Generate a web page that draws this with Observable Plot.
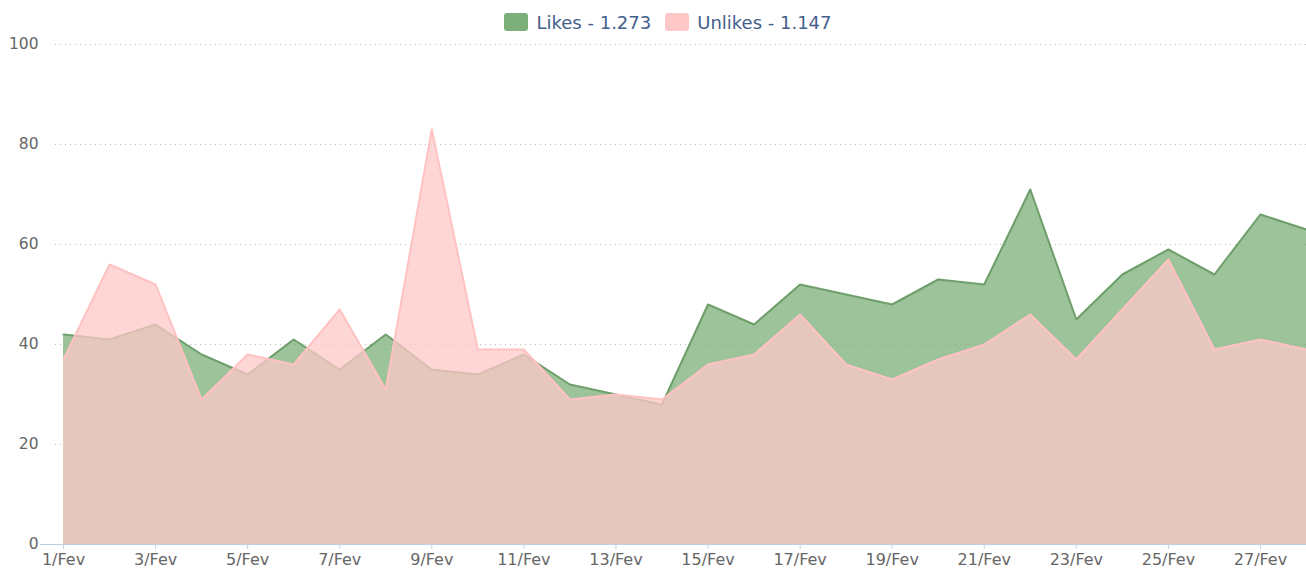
<!DOCTYPE html>
<html>
<head>
<meta charset="utf-8">
<script src="https://cdn.jsdelivr.net/npm/d3@7"></script>
<script src="https://cdn.jsdelivr.net/npm/@observablehq/plot@0.6"></script>
<style>
  html, body { margin: 0; padding: 0; background: #fff; }
  body { width: 1306px; height: 568px; overflow: hidden; font-family: "DejaVu Sans", Verdana, sans-serif; }
  #legend { height: 34px; padding-top: 10px; display: flex; justify-content: center; align-items: center; font-size: 18px; color: #44608a; padding-left: 44px; box-sizing: border-box; }
  .item { display: flex; align-items: center; margin-right: 14px; }
  .sw { width: 24px; height: 18px; border-radius: 3px; margin-right: 8px; }
</style>
</head>
<body>
<div id="legend"></div>
<div id="chart"></div>
<script>
const days = [1,2,3,4,5,6,7,8,9,10,11,12,13,14,15,16,17,18,19,20,21,22,23,24,25,26,27,28];
const likes = [42,41,44,38,34,41,35,42,35,34,38,32,30,28,48,44,52,50,48,53,52,71,45,54,59,54,66,63];
const unlikes = [37,56,52,29,38,36,47,31,83,39,39,29,30,29,36,38,46,36,33,37,40,46,37,47,57,39,41,39];
const tickDays = [1,3,5,7,9,11,13,15,17,19,21,23,25,27];
const yTicks = [0,20,40,60,80,100];
const gridTicks = [20,40,60,80,100];
const seriesNames = ["Likes", "Unlikes"];
const seriesTotals = ["1.273", "1.147"];
const seriesColors = ["#7caf7a", "#ffc8c8"];

const rows = days.map((d, i) => ({day: d, likes: likes[i], unlikes: unlikes[i]}));

// legend
const legend = document.getElementById("legend");
seriesNames.forEach((n, i) => {
  const it = document.createElement("div");
  it.className = "item";
  const sw = document.createElement("div");
  sw.className = "sw";
  sw.style.background = seriesColors[i];
  const t = document.createElement("span");
  t.textContent = `${n} - ${seriesTotals[i]}`;
  it.appendChild(sw); it.appendChild(t);
  legend.appendChild(it);
});

const chart = Plot.plot({
  width: 1306,
  height: 534,
  marginLeft: 40,
  marginRight: 0,
  marginTop: 10,
  marginBottom: 24,
  style: {fontFamily: "DejaVu Sans, Verdana, sans-serif", background: "#fff", overflow: "visible"},
  x: {type: "linear", domain: [0.5, 28]},
  y: {domain: [0, 100]},
  marks: [
    Plot.ruleY(gridTicks, {stroke: "#b8b8b8", strokeDasharray: "1,4", strokeWidth: 1, insetLeft: 15}),
    Plot.areaY(rows, {x: "day", y1: 0, y2: "likes", fill: seriesColors[0], fillOpacity: 0.75}),
    Plot.lineY(rows, {x: "day", y: "likes", stroke: "#6e9f6b", strokeWidth: 2}),
    Plot.areaY(rows, {x: "day", y1: 0, y2: "unlikes", fill: seriesColors[1], fillOpacity: 0.75}),
    Plot.lineY(rows, {x: "day", y: "unlikes", stroke: "#ffc2c2", strokeWidth: 2}),
    Plot.ruleY([0], {stroke: "#c0d0e0", strokeWidth: 1}),
    Plot.axisY({ticks: yTicks, tickSize: 0, tickPadding: 2, fontSize: 15.5, fill: "#666", label: null}),
    Plot.axisX({ticks: tickDays, tickSize: 5, tickPadding: 4, stroke: "#c0d0e0", fill: "#666", fontSize: 16, tickFormat: d => `${d}/Fev`, label: null})
  ]
});
document.getElementById("chart").appendChild(chart);
</script>
</body>
</html>
